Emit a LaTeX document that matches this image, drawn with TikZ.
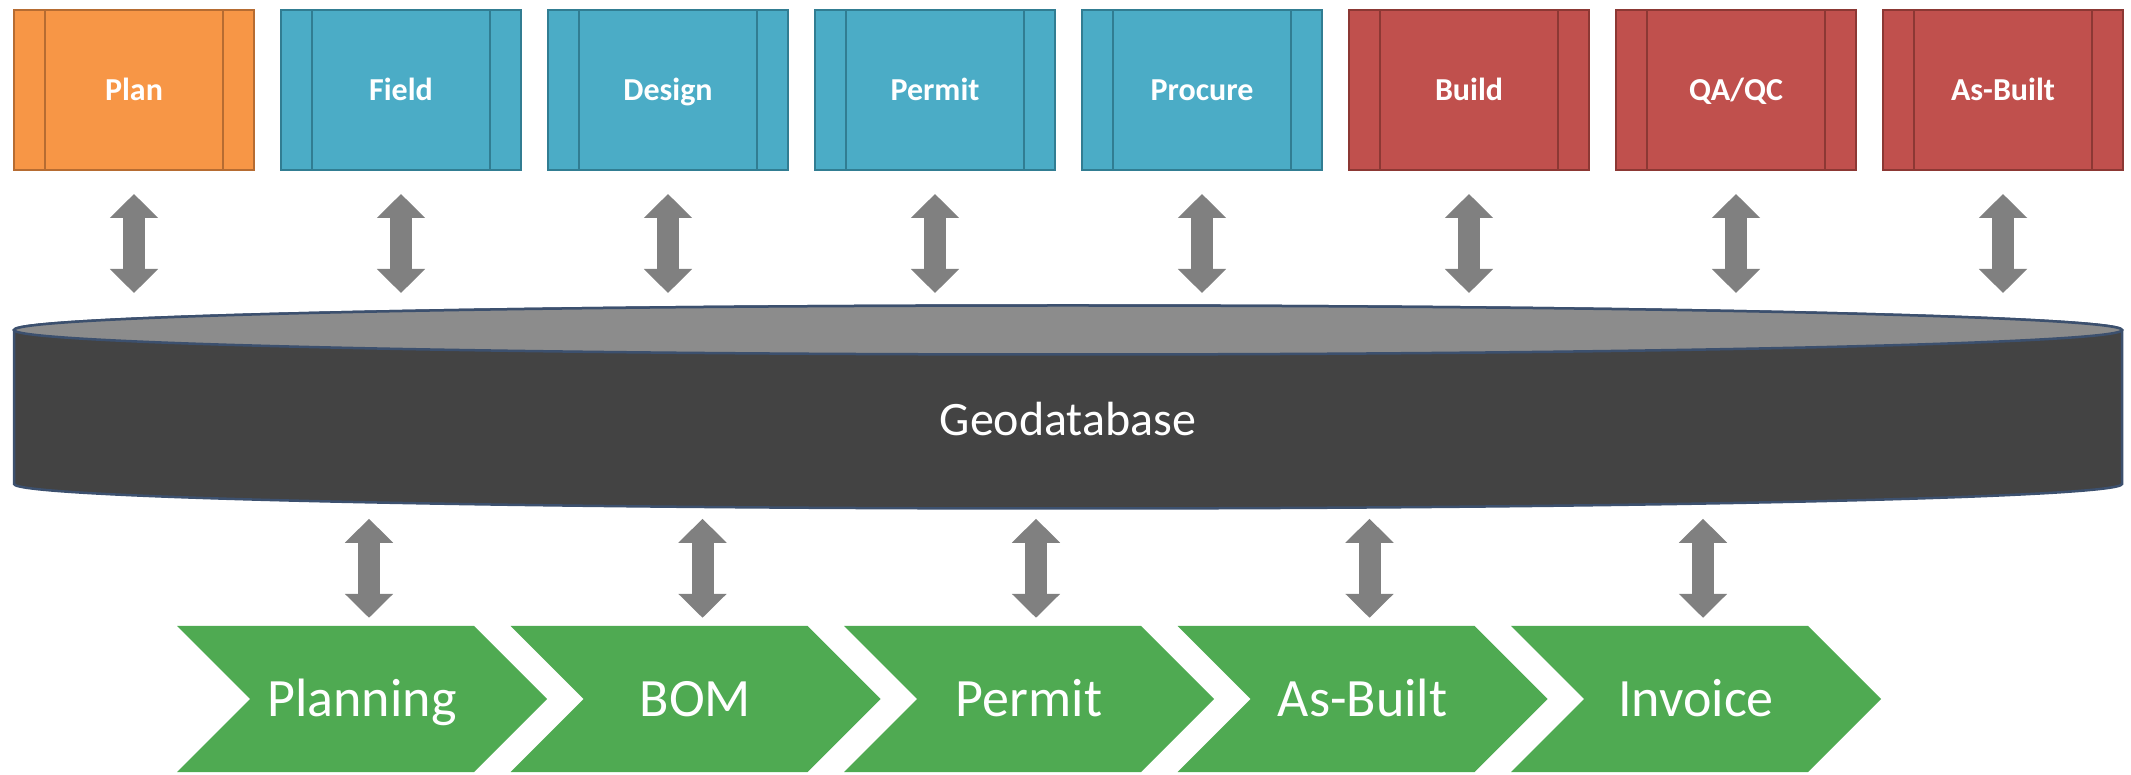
\documentclass[tikz,border=0pt]{standalone}
\usepackage{fontspec}
\setmainfont{Carlito}
\usetikzlibrary{arrows.meta,shapes.symbols}

\definecolor{planfill}{RGB}{247,150,70}
\definecolor{plandraw}{RGB}{182,108,50}
\definecolor{fieldfill}{RGB}{75,172,198}
\definecolor{fielddraw}{RGB}{49,125,146}
\definecolor{buildfill}{RGB}{192,80,77}
\definecolor{builddraw}{RGB}{140,56,52}
\definecolor{stepgreen}{RGB}{79,170,82}
\definecolor{arrowgray}{RGB}{128,128,128}
\definecolor{dbbody}{RGB}{67,67,67}
\definecolor{dbtop}{RGB}{140,140,140}
\definecolor{dbline}{RGB}{60,80,110}

\tikzset{
  process/.style={rectangle, line width=2pt,
    minimum width=240pt, minimum height=160pt, inner sep=0pt,
    text height=24pt, text depth=3.2pt,
    text=white, font=\fontsize{32}{36}\selectfont\bfseries},
  planbox/.style={process, fill=planfill, draw=plandraw,
    path picture={
      \draw[plandraw, line width=2pt] ([xshift=31pt]path picture bounding box.north west) -- ([xshift=31pt]path picture bounding box.south west);
      \draw[plandraw, line width=2pt] ([xshift=-31pt]path picture bounding box.north east) -- ([xshift=-31pt]path picture bounding box.south east);
    }},
  fieldbox/.style={process, fill=fieldfill, draw=fielddraw,
    path picture={
      \draw[fielddraw, line width=2pt] ([xshift=31pt]path picture bounding box.north west) -- ([xshift=31pt]path picture bounding box.south west);
      \draw[fielddraw, line width=2pt] ([xshift=-31pt]path picture bounding box.north east) -- ([xshift=-31pt]path picture bounding box.south east);
    }},
  buildbox/.style={process, fill=buildfill, draw=builddraw,
    path picture={
      \draw[builddraw, line width=2pt] ([xshift=31pt]path picture bounding box.north west) -- ([xshift=31pt]path picture bounding box.south west);
      \draw[builddraw, line width=2pt] ([xshift=-31pt]path picture bounding box.north east) -- ([xshift=-31pt]path picture bounding box.south east);
    }},
  stepbox/.style={signal, signal from=west, signal to=east, signal pointer angle=90,
    fill=stepgreen, minimum width=370pt, minimum height=146pt, inner sep=0pt,
    text height=40.5pt, text depth=5.4pt,
    text=white, font=\fontsize{54}{60}\selectfont},
  dbarrow/.style={draw=arrowgray, line width=22pt,
    {Triangle[width=47pt,length=24pt]}-{Triangle[width=47pt,length=24pt]}}
}

\begin{document}
\begin{tikzpicture}[x=1pt,y=1pt]
    \useasboundingbox (0,0) rectangle (2131,774);

    % Box in alto
    \node[planbox] (plan) at (134,684) {Plan};
    \node[fieldbox] (field) at (401,684) {Field};
    \node[fieldbox] (design) at (668,684) {Design};
    \node[fieldbox] (permit) at (935,684) {Permit};
    \node[fieldbox] (procure) at (1202,684) {Procure};
    \node[buildbox] (build) at (1469,684) {Build};
    \node[buildbox] (qaqc) at (1736,684) {QA/QC};
    \node[buildbox] (asbuilt) at (2003,684) {As-Built};

    % Database
    \filldraw[fill=dbbody, draw=dbline, line width=2.5pt] (14,444) -- (14,290)
        arc[start angle=180, end angle=360, x radius=1054, y radius=24.5] -- (2122,444)
        arc[start angle=0, end angle=180, x radius=1054, y radius=24.5] -- cycle;
    \filldraw[fill=dbtop, draw=dbline, line width=2.5pt] (1068,444) ellipse[x radius=1054, y radius=24.5];
    \node[text=white, font=\fontsize{48}{54}\selectfont] (geodb) at (1068,355) {Geodatabase};

    % Fasi in basso
    \node[stepbox] (planning) at (362,75) {Planning};
    \node[stepbox] (bom) at (695.5,75) {BOM};
    \node[stepbox] (permitstep) at (1029,75) {Permit};
    \node[stepbox] (asbuiltstep) at (1362.5,75) {As-Built};
    \node[stepbox] (invoice) at (1696,75) {Invoice};

    % Frecce
    \draw[dbarrow] ([yshift=-23pt]plan.south) -- ([yshift=-122pt]plan.south);
    \draw[dbarrow] ([yshift=-23pt]field.south) -- ([yshift=-122pt]field.south);
    \draw[dbarrow] ([yshift=-23pt]design.south) -- ([yshift=-122pt]design.south);
    \draw[dbarrow] ([yshift=-23pt]permit.south) -- ([yshift=-122pt]permit.south);
    \draw[dbarrow] ([yshift=-23pt]procure.south) -- ([yshift=-122pt]procure.south);
    \draw[dbarrow] ([yshift=-23pt]build.south) -- ([yshift=-122pt]build.south);
    \draw[dbarrow] ([yshift=-23pt]qaqc.south) -- ([yshift=-122pt]qaqc.south);
    \draw[dbarrow] ([yshift=-23pt]asbuilt.south) -- ([yshift=-122pt]asbuilt.south);

    \draw[dbarrow] ([xshift=7pt,yshift=107pt]planning.north) -- ([xshift=7pt,yshift=8pt]planning.north);
    \draw[dbarrow] ([xshift=7pt,yshift=107pt]bom.north) -- ([xshift=7pt,yshift=8pt]bom.north);
    \draw[dbarrow] ([xshift=7pt,yshift=107pt]permitstep.north) -- ([xshift=7pt,yshift=8pt]permitstep.north);
    \draw[dbarrow] ([xshift=7pt,yshift=107pt]asbuiltstep.north) -- ([xshift=7pt,yshift=8pt]asbuiltstep.north);
    \draw[dbarrow] ([xshift=7pt,yshift=107pt]invoice.north) -- ([xshift=7pt,yshift=8pt]invoice.north);

\end{tikzpicture}
\end{document}
